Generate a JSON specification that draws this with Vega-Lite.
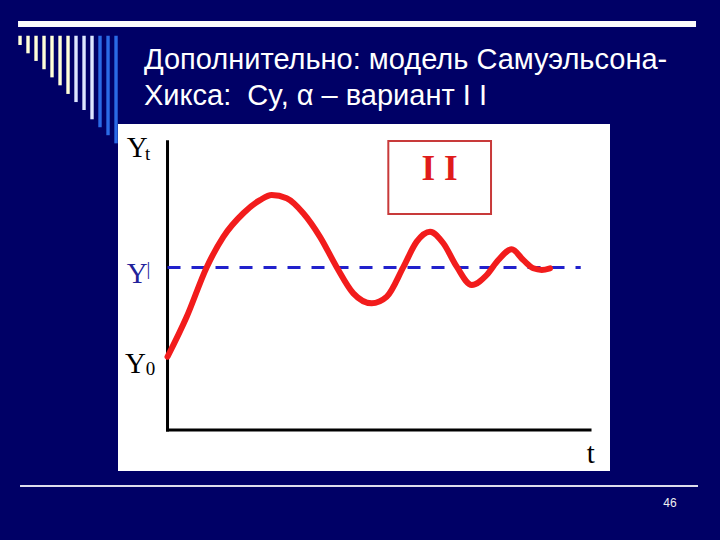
{
  "$schema": "https://vega.github.io/schema/vega-lite/v6.json",
  "width": 492,
  "height": 347,
  "autosize": {"type": "none"},
  "padding": {"left": 118, "top": 124, "right": 110, "bottom": 69},
  "background": "#000066",
  "config": {"view": {"fill": "white", "stroke": null}},
  "title": {
    "text": "Дополнительно: модель Самуэльсона-",
    "subtitle": "Хикса:\u00a0 Cy, α – вариант I I",
    "anchor": "start",
    "frame": "group",
    "dx": 26,
    "dy": 106,
    "offset": 16,
    "color": "white",
    "subtitleColor": "white",
    "font": "Liberation Sans",
    "subtitleFont": "Liberation Sans",
    "fontSize": 29,
    "subtitleFontSize": 29,
    "fontWeight": "normal",
    "subtitleFontWeight": "normal",
    "subtitlePadding": 7
  },
  "datasets": {
    "curve": [
      {"t": 0, "Y": 45.1},
      {"t": 4.54, "Y": 69.7},
      {"t": 9.28, "Y": 100.2},
      {"t": 13.21, "Y": 118.9},
      {"t": 17.94, "Y": 133.4},
      {"t": 21.89, "Y": 141.5},
      {"t": 24.66, "Y": 144.6},
      {"t": 28.21, "Y": 142.6},
      {"t": 32.14, "Y": 133.4},
      {"t": 36.09, "Y": 118.9},
      {"t": 40.05, "Y": 100.2},
      {"t": 43.98, "Y": 84.1},
      {"t": 48.33, "Y": 78.0},
      {"t": 51.88, "Y": 82.0},
      {"t": 55.81, "Y": 100.2},
      {"t": 58.98, "Y": 115.9},
      {"t": 62.13, "Y": 122.0},
      {"t": 65.28, "Y": 114.9},
      {"t": 68.45, "Y": 100.5},
      {"t": 72.0, "Y": 89.2},
      {"t": 75.55, "Y": 95.4},
      {"t": 78.3, "Y": 104.6},
      {"t": 81.47, "Y": 111.2},
      {"t": 84.21, "Y": 104.6},
      {"t": 86.58, "Y": 99.5},
      {"t": 88.57, "Y": 98.5},
      {"t": 90.53, "Y": 99.5}
    ],
    "bars": [
      {"t": -34.91, "Y": 242.6, "Y2": 236.9, "tone": "cream"},
      {"t": -33.02, "Y": 242.6, "Y2": 231.8, "tone": "cream"},
      {"t": -31.12, "Y": 242.6, "Y2": 227.1, "tone": "cream"},
      {"t": -29.23, "Y": 242.6, "Y2": 222.0, "tone": "cream"},
      {"t": -27.34, "Y": 242.6, "Y2": 217.0, "tone": "cream"},
      {"t": -25.44, "Y": 242.6, "Y2": 212.1, "tone": "cream"},
      {"t": -23.55, "Y": 242.6, "Y2": 206.8, "tone": "cream"},
      {"t": -21.66, "Y": 242.6, "Y2": 201.8, "tone": "pale"},
      {"t": -19.76, "Y": 242.6, "Y2": 196.9, "tone": "pale"},
      {"t": -17.87, "Y": 242.6, "Y2": 191.2, "tone": "pale"},
      {"t": -15.98, "Y": 242.6, "Y2": 186.3, "tone": "blue"},
      {"t": -14.08, "Y": 242.6, "Y2": 181.4, "tone": "blue"},
      {"t": -12.19, "Y": 242.6, "Y2": 176.4, "tone": "blue"}
    ],
    "frameRules": [
      {"t": -35.38, "t2": 125.09, "Y": 249.8, "kind": "top"},
      {"t": -34.91, "t2": 125.56, "Y": -34.5, "kind": "bottom"}
    ],
    "axes": [
      {"t": 0, "t2": 100, "Y": 0, "Y2": 0},
      {"t": 0, "t2": 0, "Y": 0, "Y2": 177.4}
    ],
    "equilibrium": [
      {"t": 0, "t2": 97.8, "Y": 100}
    ],
    "box": [
      {"t": 52.26, "t2": 76.57, "Y": 177.8, "Y2": 132.9}
    ],
    "boxLabel": [
      {"t": 64.4, "Y": 153.8, "text": "I I"}
    ],
    "bigLabels": [
      {"t": -9.66, "Y": 168.2, "text": "Y", "role": "axis"},
      {"t": -9.66, "Y": 90.3, "text": "Y", "role": "equilibrium"},
      {"t": -10.06, "Y": 34.9, "text": "Y", "role": "axis"},
      {"t": 99.2, "Y": -20.5, "text": "t", "role": "axis"}
    ],
    "smallLabels": [
      {"t": -5.3, "Y": 166.2, "text": "t", "role": "axis"},
      {"t": -5.0, "Y": 95.4, "text": "|", "role": "equilibrium"},
      {"t": -5.16, "Y": 33.8, "text": "0", "role": "axis"}
    ],
    "page": [
      {"t": 118.93, "Y": -47.4, "text": "46"}
    ]
  },
  "encoding": {
    "x": {"field": "t", "type": "quantitative", "scale": {"domain": [-11.72, 104.73], "nice": false, "zero": false}, "axis": null},
    "y": {"field": "Y", "type": "quantitative", "scale": {"domain": [-25.2, 188.3], "nice": false, "zero": false}, "axis": null}
  },
  "layer": [
    {
      "data": {"name": "bars"},
      "transform": [{"filter": "datum.tone === 'cream'"}],
      "mark": {"type": "rule", "color": "#ffffd8", "strokeWidth": 3.4, "strokeCap": "butt"},
      "encoding": {"y2": {"field": "Y2"}}
    },
    {
      "data": {"name": "bars"},
      "transform": [{"filter": "datum.tone === 'pale'"}],
      "mark": {"type": "rule", "color": "#dde6ff", "strokeWidth": 3.4, "strokeCap": "butt"},
      "encoding": {"y2": {"field": "Y2"}}
    },
    {
      "data": {"name": "bars"},
      "transform": [{"filter": "datum.tone === 'blue'"}],
      "mark": {"type": "rule", "color": "#2a6ae6", "strokeWidth": 3.4, "strokeCap": "butt"},
      "encoding": {"y2": {"field": "Y2"}}
    },
    {
      "data": {"name": "frameRules"},
      "transform": [{"filter": "datum.kind === 'top'"}],
      "mark": {"type": "rule", "color": "#fbfbfb", "strokeWidth": 6, "strokeCap": "butt"},
      "encoding": {"x2": {"field": "t2"}}
    },
    {
      "data": {"name": "frameRules"},
      "transform": [{"filter": "datum.kind === 'bottom'"}],
      "mark": {"type": "rule", "color": "#dcdcec", "strokeWidth": 2, "strokeCap": "butt"},
      "encoding": {"x2": {"field": "t2"}}
    },
    {
      "data": {"name": "box"},
      "mark": {"type": "rect", "fill": "white", "stroke": "#c83a3a", "strokeWidth": 2},
      "encoding": {"x2": {"field": "t2"}, "y2": {"field": "Y2"}}
    },
    {
      "data": {"name": "boxLabel"},
      "mark": {"type": "text", "font": "Liberation Serif", "fontWeight": "bold", "fontSize": 35, "color": "#e01b1b", "align": "center", "baseline": "alphabetic"},
      "encoding": {"text": {"field": "text"}}
    },
    {
      "data": {"name": "axes"},
      "mark": {"type": "rule", "color": "#000000", "strokeWidth": 3, "strokeCap": "square"},
      "encoding": {"x2": {"field": "t2"}, "y2": {"field": "Y2"}}
    },
    {
      "data": {"name": "equilibrium"},
      "mark": {"type": "rule", "color": "#2121cc", "strokeWidth": 3, "strokeDash": [13, 11]},
      "encoding": {"x2": {"field": "t2"}}
    },
    {
      "data": {"name": "curve"},
      "mark": {"type": "line", "color": "#f21c1c", "strokeWidth": 6, "interpolate": "monotone", "strokeCap": "round", "strokeJoin": "round"},
      "encoding": {}
    },
    {
      "data": {"name": "bigLabels"},
      "mark": {"type": "text", "font": "Liberation Serif", "fontSize": 29, "align": "left", "baseline": "alphabetic"},
      "encoding": {
        "text": {"field": "text"},
        "color": {"field": "role", "type": "nominal", "scale": {"domain": ["axis", "equilibrium"], "range": ["#000000", "#22229a"]}, "legend": null}
      }
    },
    {
      "data": {"name": "smallLabels"},
      "mark": {"type": "text", "font": "Liberation Serif", "fontSize": 19, "align": "left", "baseline": "alphabetic"},
      "encoding": {
        "text": {"field": "text"},
        "color": {"field": "role", "type": "nominal", "scale": {"domain": ["axis", "equilibrium"], "range": ["#000000", "#22229a"]}, "legend": null}
      }
    },
    {
      "data": {"name": "page"},
      "mark": {"type": "text", "font": "Liberation Sans", "fontSize": 12, "color": "#f0f0f0", "align": "center", "baseline": "alphabetic"},
      "encoding": {"text": {"field": "text"}}
    }
  ]
}
